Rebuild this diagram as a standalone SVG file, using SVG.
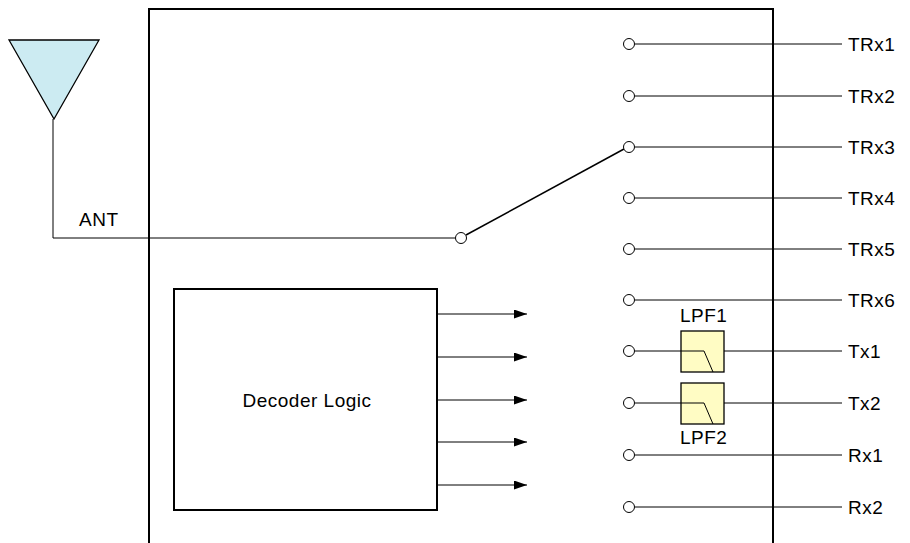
<svg xmlns="http://www.w3.org/2000/svg" width="910" height="543" viewBox="0 0 910 543">
<defs>
<style>
.t{font-family:"Liberation Sans",Arial,sans-serif;font-size:19px;letter-spacing:0.5px;fill:#000}
.w{stroke:#000;stroke-width:1;fill:none}
.c{stroke:#000;stroke-width:1;fill:#fff}
.lpf{stroke:#000;stroke-width:1.3;fill:#FFFCC4}
</style>
<marker id="ah" markerWidth="13" markerHeight="9" refX="13" refY="4.5" orient="auto" markerUnits="userSpaceOnUse">
<path d="M0,0 L13,4.5 L0,9 Z" fill="#000"/>
</marker>
</defs>
<rect width="910" height="543" fill="#fff"/>
<g id="module">
<path d="M149,560 V9 H773 V560" fill="none" stroke="#000" stroke-width="2"/>
</g>
<g id="connectors">
<path class="w" d="M53,119 V238 H455"/>
<line x1="466" y1="235" x2="624" y2="149" stroke="#000" stroke-width="1.5"/>
<line class="w" x1="635" y1="44" x2="842" y2="44"/>
<line class="w" x1="635" y1="96" x2="842" y2="96"/>
<line class="w" x1="635" y1="147" x2="842" y2="147"/>
<line class="w" x1="635" y1="198" x2="842" y2="198"/>
<line class="w" x1="635" y1="249" x2="842" y2="249"/>
<line class="w" x1="635" y1="300" x2="842" y2="300"/>
<line class="w" x1="635" y1="351" x2="681" y2="351"/>
<line class="w" x1="724" y1="351" x2="842" y2="351"/>
<line class="w" x1="635" y1="403" x2="681" y2="403"/>
<line class="w" x1="724" y1="403" x2="842" y2="403"/>
<line class="w" x1="635" y1="455" x2="842" y2="455"/>
<line class="w" x1="635" y1="507" x2="842" y2="507"/>
<line class="w" x1="437" y1="314" x2="527" y2="314" marker-end="url(#ah)"/>
<line class="w" x1="437" y1="357" x2="527" y2="357" marker-end="url(#ah)"/>
<line class="w" x1="437" y1="400" x2="527" y2="400" marker-end="url(#ah)"/>
<line class="w" x1="437" y1="442" x2="527" y2="442" marker-end="url(#ah)"/>
<line class="w" x1="437" y1="485" x2="527" y2="485" marker-end="url(#ah)"/>
</g>
<g id="antenna">
<polygon points="9,40 99,40 54,119" fill="#CCEBF2" stroke="#000" stroke-width="1.3"/>
<text class="t" x="79" y="226">ANT</text>
</g>
<g id="switch-common"><circle class="c" cx="461" cy="238" r="5.5"/></g>
<g id="port-TRx1"><circle class="c" cx="629" cy="44" r="5.5"/><text class="t" x="848" y="51">TRx1</text></g>
<g id="port-TRx2"><circle class="c" cx="629" cy="96" r="5.5"/><text class="t" x="848" y="103">TRx2</text></g>
<g id="port-TRx3"><circle class="c" cx="629" cy="147" r="5.5"/><text class="t" x="848" y="154">TRx3</text></g>
<g id="port-TRx4"><circle class="c" cx="629" cy="198" r="5.5"/><text class="t" x="848" y="205">TRx4</text></g>
<g id="port-TRx5"><circle class="c" cx="629" cy="249" r="5.5"/><text class="t" x="848" y="256">TRx5</text></g>
<g id="port-TRx6"><circle class="c" cx="629" cy="300" r="5.5"/><text class="t" x="848" y="307">TRx6</text></g>
<g id="port-Tx1"><circle class="c" cx="629" cy="351" r="5.5"/><text class="t" x="848" y="358">Tx1</text></g>
<g id="port-Tx2"><circle class="c" cx="629" cy="403" r="5.5"/><text class="t" x="848" y="410">Tx2</text></g>
<g id="port-Rx1"><circle class="c" cx="629" cy="455" r="5.5"/><text class="t" x="848" y="462">Rx1</text></g>
<g id="port-Rx2"><circle class="c" cx="629" cy="507" r="5.5"/><text class="t" x="848" y="514">Rx2</text></g>
<g id="LPF1">
<rect class="lpf" x="681" y="331" width="43" height="41"/>
<path class="w" d="M681,351 H704 L713,372"/>
<text class="t" x="680" y="322">LPF1</text>
</g>
<g id="LPF2">
<rect class="lpf" x="681" y="383" width="43" height="41"/>
<path class="w" d="M681,403 H704 L713,424"/>
<text class="t" x="680" y="444">LPF2</text>
</g>
<g id="decoder">
<rect x="174" y="289" width="263" height="221" fill="#fff" stroke="#000" stroke-width="2"/>
<text class="t" x="307" y="407" text-anchor="middle">Decoder Logic</text>
</g>
</svg>
